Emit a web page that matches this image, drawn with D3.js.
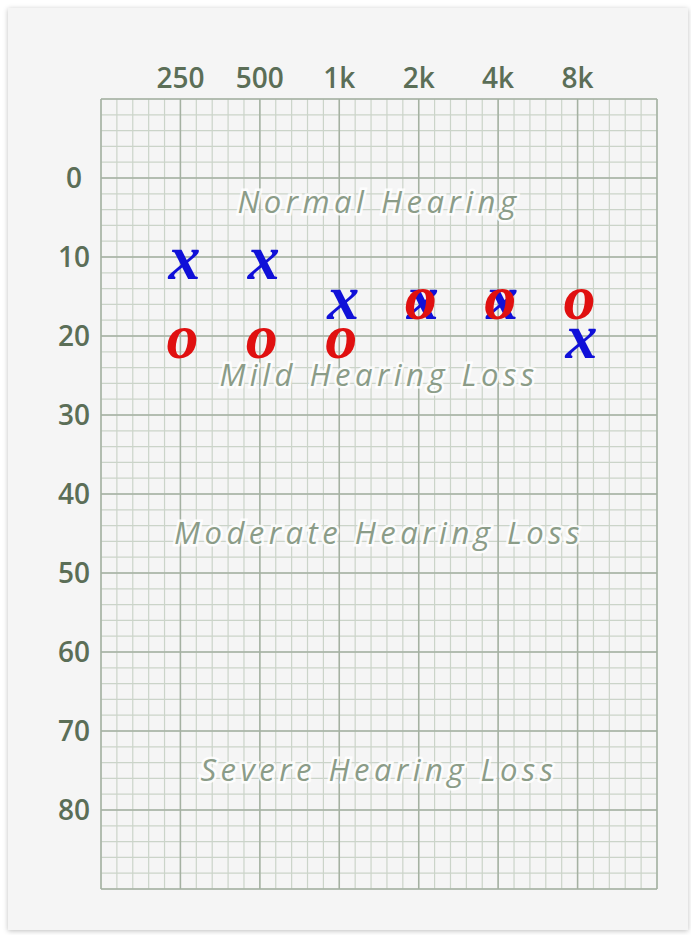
<!DOCTYPE html>
<html>
<head>
<meta charset="utf-8">
<script src="https://cdn.jsdelivr.net/npm/d3@7"></script>
<style>
  body { margin: 0; background: #ffffff; }
  #card {
    position: absolute; left: 8px; top: 8px; width: 680px; height: 922px;
    background: #f5f5f5; box-shadow: 0 1px 5px rgba(0,0,0,0.25);
  }
  svg { position: absolute; left: 0; top: 0; }
</style>
</head>
<body>
<div id="card"></div>
<div id="chart"></div>
<script>
// ----------------------------------------------- //
// Data
var freqs = [250, 500, 1000, 2000, 4000, 8000];
var freqLabels = ["250", "500", "1k", "2k", "4k", "8k"];
var dbTicks = [0, 10, 20, 30, 40, 50, 60, 70, 80];
var leftEar = [10, 10, 15, 15, 15, 20];   // blue X
var rightEar = [20, 20, 20, 15, 15, 15];  // red O
var zoneNames = ["Normal Hearing", "Mild Hearing Loss", "Moderate Hearing Loss", "Severe Hearing Loss"];
var zoneLevels = [3, 25, 45, 75];

// ----------------------------------------------- //
var svgWidth = 691;
var svgHeight = 935;
var margin = { top: 99, left: 101, right: 34, bottom: 46 };

var svg = d3.select("#chart")
    .append("svg")
    .attr("width", svgWidth)
    .attr("height", svgHeight);

var x = d3.scaleLog().base(2)
    .domain([125, 16000])
    .range([margin.left, svgWidth - margin.right]);

var y = d3.scaleLinear()
    .domain([-10, 90])
    .range([margin.top, svgHeight - margin.bottom]);

// grid: minor lines (1/5 octave, 2 dB)
var grid = svg.append("g");
var minorX = d3.range(0, 36).map(i => 125 * Math.pow(2, i / 5));
var minorY = d3.range(-10, 91, 2);

grid.selectAll(".vminor").data(minorX).enter().append("line")
    .attr("x1", d => x(d)).attr("x2", d => x(d))
    .attr("y1", y(-10)).attr("y2", y(90))
    .attr("stroke", "#cbd4c9").attr("stroke-width", 1.2);

grid.selectAll(".hminor").data(minorY).enter().append("line")
    .attr("y1", d => y(d)).attr("y2", d => y(d))
    .attr("x1", x(125)).attr("x2", x(16000))
    .attr("stroke", "#cbd4c9").attr("stroke-width", 1.2);

// major lines
var majorX = [125].concat(freqs, [16000]);
var majorY = d3.range(-10, 91, 10);
grid.selectAll(".vmajor").data(majorX).enter().append("line")
    .attr("x1", d => x(d)).attr("x2", d => x(d))
    .attr("y1", y(-10)).attr("y2", y(90))
    .attr("stroke", "#a5b1a2").attr("stroke-width", 1.5);

grid.selectAll(".hmajor").data(majorY).enter().append("line")
    .attr("y1", d => y(d)).attr("y2", d => y(d))
    .attr("x1", x(125)).attr("x2", x(16000))
    .attr("stroke", "#a5b1a2").attr("stroke-width", 1.5);

// axis labels
svg.selectAll(".xlab").data(freqs).enter().append("text")
    .attr("x", d => x(d))
    .attr("y", 88)
    .attr("text-anchor", "middle")
    .attr("font-family", "'Open Sans', sans-serif")
    .attr("font-size", 28)
    .attr("font-weight", 600)
    .attr("fill", "#5b6e57")
    .text((d, i) => freqLabels[i]);

svg.selectAll(".ylab").data(dbTicks).enter().append("text")
    .attr("x", 74)
    .attr("y", d => y(d))
    .attr("dy", "0.36em")
    .attr("text-anchor", "middle")
    .attr("font-family", "'Open Sans', sans-serif")
    .attr("font-size", 28)
    .attr("font-weight", 600)
    .attr("fill", "#5b6e57")
    .text(d => d);

// zone labels
svg.selectAll(".zone").data(zoneNames).enter().append("text")
    .attr("x", (x(125) + x(16000)) / 2)
    .attr("y", (d, i) => y(zoneLevels[i]))
    .attr("dy", "0.35em")
    .attr("text-anchor", "middle")
    .attr("font-family", "'Open Sans', sans-serif")
    .attr("font-style", "italic")
    .attr("font-size", 31)
    .attr("letter-spacing", 4.5)
    .attr("fill", "#8b9c88")
    .attr("stroke", "rgba(255,255,255,0.85)")
    .attr("stroke-width", 5)
    .attr("paint-order", "stroke")
    .text(d => d);

// markers
var marks = svg.append("g")
    .attr("font-family", "'Liberation Serif', serif")
    .attr("font-style", "italic")
    .attr("font-weight", "bold")
    .attr("font-size", 64)
    .attr("text-anchor", "middle");

marks.selectAll(".lx").data(leftEar).enter().append("text")
    .attr("x", (d, i) => x(freqs[i]) + 4)
    .attr("y", d => y(d) + 6)
    .attr("dy", "0.25em")
    .attr("fill", "#1010d8")
    .text("x");

marks.selectAll(".ro").data(rightEar).enter().append("text")
    .attr("x", (d, i) => x(freqs[i]) + 2)
    .attr("y", d => y(d) + 6)
    .attr("dy", "0.25em")
    .attr("fill", "#e01010")
    .text("o");
</script>
</body>
</html>
